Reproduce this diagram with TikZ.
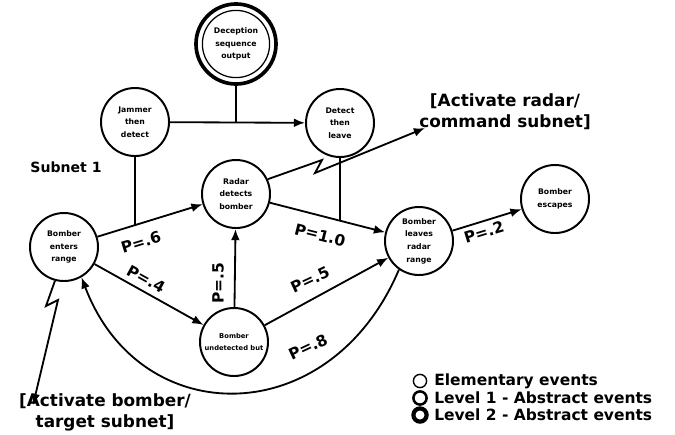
\documentclass[tikz,border=0pt]{standalone}
\usepackage{fontspec}
\setmainfont{DejaVu Sans}
\usetikzlibrary{arrows.meta}

\begin{document}
\begin{tikzpicture}[
			x=0.025cm, y=-0.025cm,
			event/.style={draw, circle, line width=1.4pt, minimum size=1.7cm, inner sep=0pt, align=center, font=\fontsize{5.5}{9}\selectfont\bfseries},
			abstract/.style={event, line width=2.6pt, minimum size=2cm},
			plabel/.style={font=\fontsize{11}{13}\selectfont\bfseries, inner sep=0pt},
			note/.style={font=\fontsize{12}{15}\selectfont\bfseries, align=center, inner sep=0pt},
			key/.style={draw, circle, minimum size=0.33cm, inner sep=0pt},
			keytext/.style={font=\fontsize{11}{13}\selectfont\bfseries, anchor=west, inner sep=0pt},
			arrow/.style={-{Latex[length=2.8mm,width=2.2mm]}, line width=1.3pt},
			link/.style={line width=1.3pt}
			]
			\useasboundingbox (0,0) rectangle (675,434);
			
			% Nodes
			\node (deception) [abstract] at (236,44) {Deception\\sequence\\output};
			\node (jammer) [event] at (135,122) {Jammer\\then\\detect};
			\node (detect) [event] at (340,123) {Detect\\then\\leave};
			\node (radar) [event] at (236,194) {Radar\\detects\\bomber};
			\node (enters) [event] at (64,247) {Bomber\\enters\\range};
			\node (leaves) [event] at (419,241) {Bomber\\leaves\\radar\\range};
			\node (escapes) [event] at (555,199) {Bomber\\escapes};
			\node (undetected) [event, font=\fontsize{4.8}{9}\selectfont\bfseries] at (234,342) {Bomber\\undetected but};
			
			\node (subnet) [font=\fontsize{10}{12}\selectfont\bfseries] at (66,167) {Subnet 1};
			\node (radarcmd) [note] at (505,112) {[Activate radar/\\command subnet]};
			\node (bombercmd) [note] at (105,412) {[Activate bomber/\\target subnet]};
			\coordinate (radartip) at (425,128);
			\coordinate (bombertip) at (33,405);
			
			% Probabilities
			\node (p6) [plabel, rotate=17] at (141,242) {P=.6};
			\node (p10) [plabel, rotate=-14] at (320,235) {P=1.0};
			\node (p4) [plabel, rotate=-29] at (146,279) {P=.4};
			\node (p5a) [plabel, rotate=90] at (218,283) {P=.5};
			\node (p5b) [plabel, rotate=25] at (310,280) {P=.5};
			\node (p8) [plabel, rotate=25] at (308,347) {P=.8};
			\node (p2) [plabel, rotate=17] at (484,232) {P=.2};
			
			% Legend
			\node (k1) [key, line width=1pt] at (420,381) {};
			\node (k2) [key, line width=1.8pt] at (420,398) {};
			\node (k3) [key, line width=3pt] at (420,415) {};
			\node (t1) [keytext] at (434,381) {Elementary events};
			\node (t2) [keytext] at (434,398) {Level 1 - Abstract events};
			\node (t3) [keytext] at (434,415) {Level 2 - Abstract events};
			
			% Connections
			\draw [line width=0.9pt] (deception.center) circle [radius=0.84cm];
			\draw [arrow] (jammer) -- (detect);
			\draw [link] (deception.south) -- (deception.south |- jammer.east);
			\draw [arrow] (enters) -- (radar);
			\draw [link] (jammer.south) -- (intersection of jammer.north--jammer.south and enters--radar);
			\draw [arrow] (radar) -- (leaves);
			\draw [link] (detect.south) -- (intersection of detect.north--detect.south and radar--leaves);
			\draw [arrow] (enters) -- (undetected);
			\draw [arrow] (undetected) -- (radar);
			\draw [arrow] (undetected) -- (leaves);
			\draw [arrow] (leaves) -- (escapes);
			\draw [arrow] (leaves.235) .. controls (330,432) and (140,432) .. (enters.-60);
			\draw [arrow] (radar.25) -- (322,160) -- (315,173) -- (radartip);
			\draw [arrow] (enters.255) -- (46,306) -- (58,300) -- (bombertip);
			
		\end{tikzpicture}
\end{document}
